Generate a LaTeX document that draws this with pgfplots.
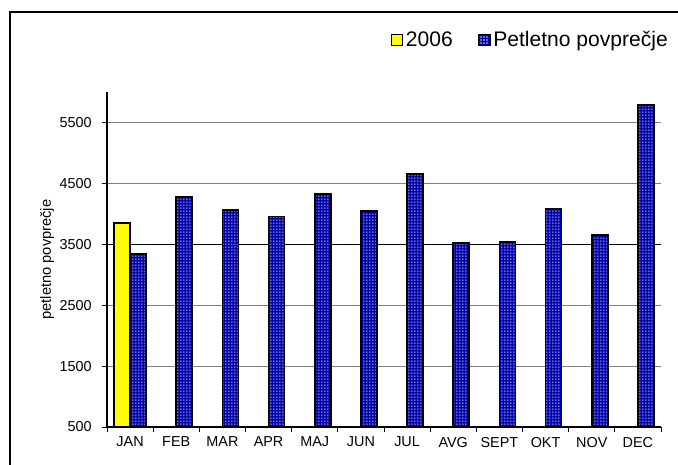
\documentclass[border=0pt]{standalone}
\usepackage{pgfplots}
\pgfplotsset{compat=1.18}
\usepackage{fontspec}
\setmainfont{Liberation Sans}
\usetikzlibrary{patterns}
\pgfdeclarepatternformonly{finedots}{\pgfpointorigin}{\pgfpoint{2.25pt}{2.25pt}}{\pgfpoint{2.25pt}{2.25pt}}{%
  \pgfpathrectangle{\pgfpoint{0.4pt}{0.4pt}}{\pgfpoint{1.05pt}{1.05pt}}\pgfusepath{fill}}
\definecolor{barblue}{RGB}{0,0,170}
\definecolor{baryellow}{RGB}{255,255,0}
\begin{document}
\begin{tikzpicture}
\useasboundingbox (0,0) rectangle (508.5pt,348pt);
\begin{scope}
\clip (0,0) rectangle (508.5pt,348pt);
\draw[line width=1pt] (7.5pt,-5pt) -- (7.5pt,339pt) -- (520pt,339pt);
\end{scope}
\begin{axis}[
  at={(80.25pt,27.75pt)}, anchor=south west,
  scale only axis, width=415.5pt, height=251.25pt,
  ybar=0pt, bar width=12pt,
  xmin=-0.5, xmax=11.5,
  ymin=500, ymax=6000,
  axis lines*=left,
  axis line style={line width=0.8pt},
  xtick={0,...,11},
  xticklabels={JAN,FEB,MAR,APR,MAJ,JUN,JUL,AVG,SEPT,OKT,NOV,DEC},
  major x tick style={draw=none},
  minor xtick={-0.5,0.5,...,11.5},
  minor x tick style={black, line width=0.6pt},
  minor tick length=4pt,
  ytick={500,1500,2500,4500,5500},
  extra y ticks={3500},
  extra y tick style={major grid style={black, line width=0.8pt}},
  ymajorgrids,
  major grid style={gray, line width=0.8pt},
  y tick style={black, line width=0.6pt},
  major tick length=4pt,
  tick align=outside,
  tick label style={font=\fontsize{10.8}{12}\selectfont},
  yticklabel style={xshift=-4pt},
  /pgf/number format/assume math mode=true,
  yticklabel style={/pgf/number format/set thousands separator={}},
  ylabel={petletno povprečje},
  ylabel style={font=\fontsize{11}{13}\selectfont, at={(axis description cs:-0.108,0.5)}, anchor=center},
  legend columns=2,
  legend style={draw=none, fill=none, font=\fontsize{15.8}{19}\selectfont,
    at={(axis description cs:0.5045,1.155)}, anchor=west,
    /tikz/every even column/.append style={column sep=17pt}},
  legend image code/.code={\draw[#1, line width=1pt] (0pt,-4.2pt) rectangle (8.4pt,4.2pt);},
]
\addplot[fill=baryellow, draw=black, line width=1.3pt] coordinates {(0,3850)};
\addlegendentry{2006}
\addplot[fill=barblue, draw=black, line width=1.3pt, postaction={pattern=finedots, pattern color=white}] coordinates {
(0,3340) (1,4277) (2,4066) (3,3955) (4,4329) (5,4049) (6,4658) (7,3521) (8,3538) (9,4081) (10,3653) (11,5791)};
\addlegendentry{Petletno povprečje}
\end{axis}
\end{tikzpicture}
\end{document}
